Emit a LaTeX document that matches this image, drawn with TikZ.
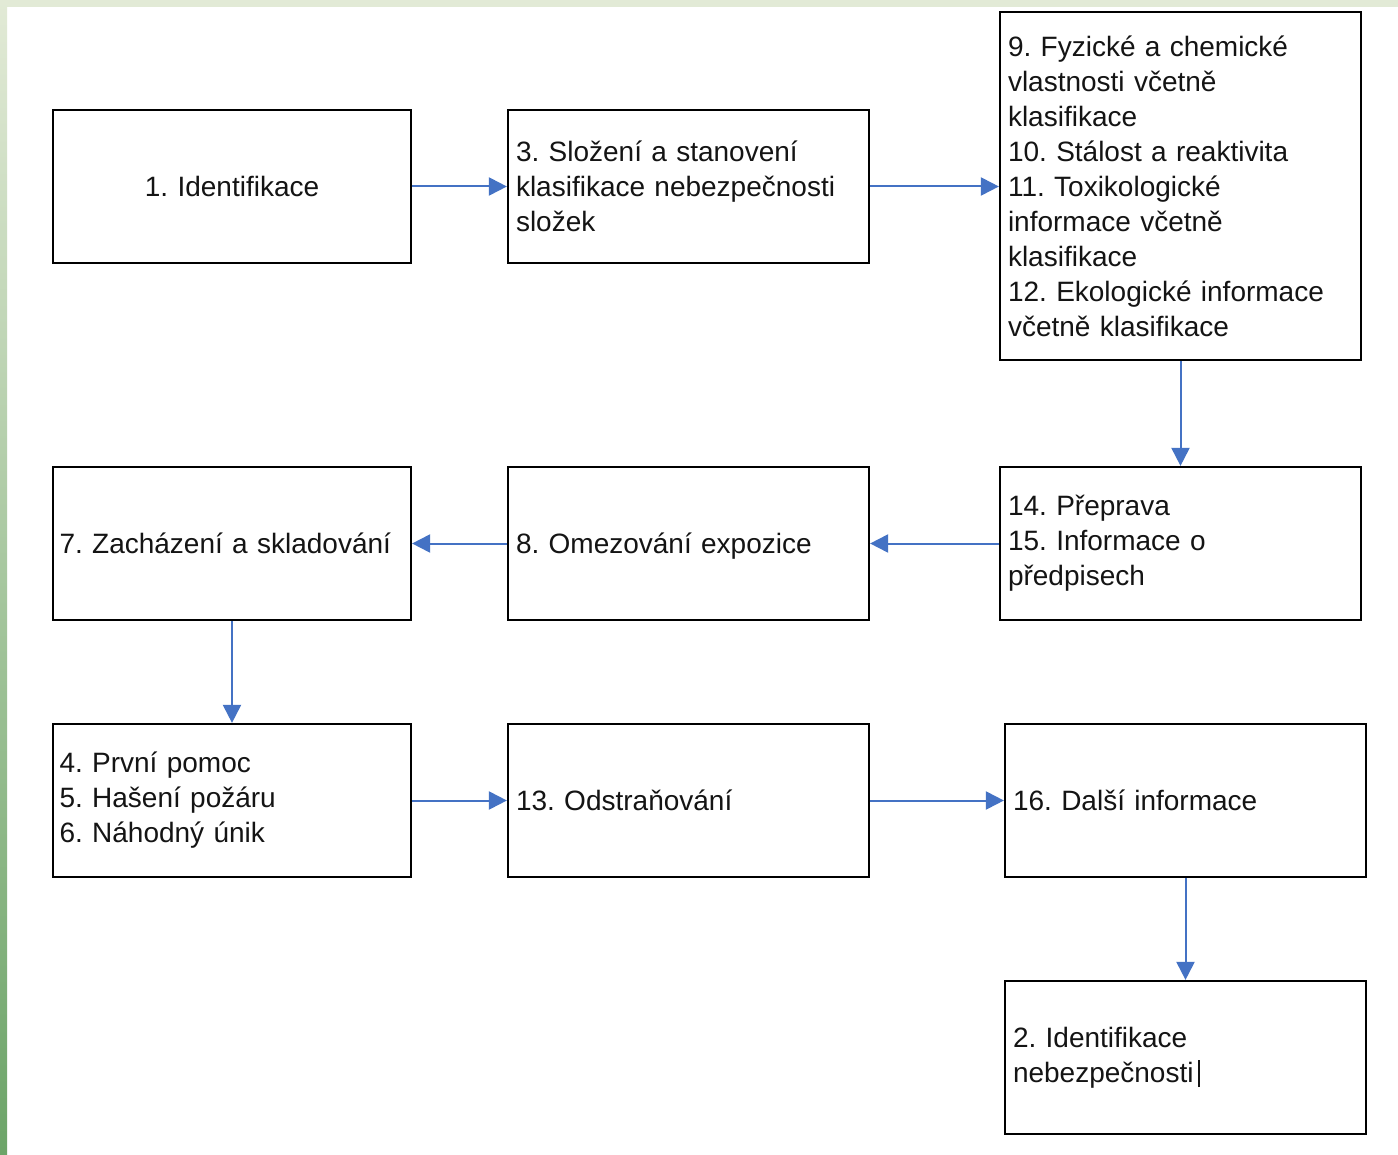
\documentclass[tikz,border=0pt]{standalone}
\usepackage{fontspec}
\setmainfont{Liberation Sans}
\frenchspacing
\usetikzlibrary{arrows.meta}
\definecolor{arrowblue}{HTML}{4472C4}
\definecolor{topgreen}{HTML}{E2EAD6}
\definecolor{botgreen}{HTML}{6CA468}
\definecolor{txt}{HTML}{141414}
\begin{document}
\begin{tikzpicture}[x=1pt,y=-1pt,
  box/.style={draw=black, line width=2.2pt, minimum width=361pt, minimum height=153pt,
    inner sep=0pt, text width=345pt, align=left, text=txt,
    font=\fontsize{28}{35}\selectfont},
  narrow/.style={minimum width=358pt},
  tall/.style={minimum height=348pt},
  oneline/.style={text height=26pt, text depth=6pt},
  link/.style={draw=arrowblue, line width=2pt, -{Triangle[length=18pt,width=18pt]}}]
\useasboundingbox (0,0) rectangle (1398,1155);
\fill[white] (0,0) rectangle (1398,1155);
\fill[topgreen] (0,0) rectangle (1398,7);
\shade[top color=topgreen, bottom color=botgreen] (0,0) rectangle (7,1155);

\node[box,narrow,oneline,align=center] (b1) at (232,186.5) {1. Identifikace};
\node[box] (b3) at (688.5,186.5) {3. Složení a stanovení\\klasifikace nebezpečnosti\\složek};
\node[box,tall] (b9) at (1180.5,186) {9. Fyzické a chemické\\vlastnosti včetně\\klasifikace\\10. Stálost a reaktivita\\11. Toxikologické\\informace včetně\\klasifikace\\12. Ekologické informace\\včetně klasifikace};
\node[box] (b14) at (1180.5,543.5) {14. Přeprava\\15. Informace o\\předpisech};
\node[box,oneline] (b8) at (688.5,543.5) {8. Omezování expozice};
\node[box,narrow,oneline] (b7) at (232,543.5) {7. Zacházení a skladování};
\node[box,narrow] (b4) at (232,800.5) {4. První pomoc\\5. Hašení požáru\\6. Náhodný únik};
\node[box,oneline] (b13) at (688.5,800.5) {13. Odstraňování};
\node[box,oneline] (b16) at (1185.5,800.5) {16. Další informace};
\node[box] (b2) at (1185.5,1057.5) {2. Identifikace\\nebezpečnosti\,\rule[-5pt]{1.8pt}{27pt}};

\draw[link] (b1) -- (b3);
\draw[link] (b3) -- (b9.west |- b3.east);
\draw[link] (b9) -- (b14);
\draw[link] (b14.west) -- (b8.east |- b14.west);
\draw[link] (b8) -- (b7);
\draw[link] (b7) -- (b4);
\draw[link] (b4) -- (b13);
\draw[link] (b13) -- (b16);
\draw[link] (b16) -- (b2);
\end{tikzpicture}
\end{document}
